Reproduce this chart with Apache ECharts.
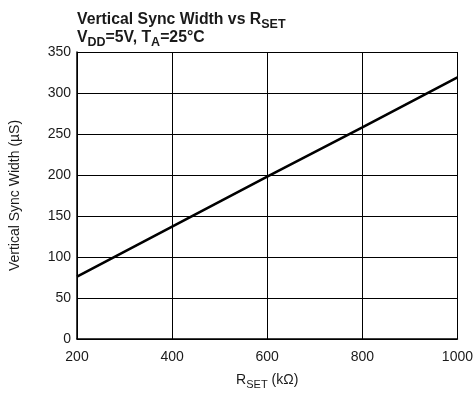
<!DOCTYPE html>
<html>
<head>
<meta charset="utf-8">
<script src="https://cdn.jsdelivr.net/npm/echarts@6/dist/echarts.min.js"></script>
<style>html,body{margin:0;padding:0;background:#fff}#c{width:476px;height:400px}</style>
</head>
<body>
<div id="c"></div>
<script>
const rSet = [200, 400, 600, 800, 1000];
const syncWidth = [76, 137, 198, 258, 319];
const xTicks = [200, 400, 600, 800, 1000];
const yTicks = [0, 50, 100, 150, 200, 250, 300, 350];

const FONT = "'Liberation Sans', Arial, sans-serif";
const TXT = '#1a1a1a';
const chart = echarts.init(document.getElementById('c'), null, {renderer: 'canvas'});
chart.setOption({
  animation: false,
  backgroundColor: '#fff',
  title: {
    left: 72, top: 5,
    text: '{b|Vertical Sync Width vs R}{s|SET}\n{b|V}{s|DD}{b|=5V, T}{s|A}{b|=25°C}',
    textStyle: {
      rich: {
        b: {fontFamily: FONT, fontWeight: 'bold', fontSize: 15.8, color: TXT, lineHeight: 18, verticalAlign: 'bottom'},
        s: {fontFamily: FONT, fontWeight: 'bold', fontSize: 12.5, color: TXT, lineHeight: 18, verticalAlign: 'bottom', padding: [0, 0, -3, 0]}
      }
    }
  },
  grid: {left: 76, right: 16, top: 52, bottom: 61},
  xAxis: {
    type: 'value', min: 200, max: 1000, interval: 200,
    axisLine: {show: true, lineStyle: {color: '#000', width: 1.5}},
    axisTick: {show: false},
    splitLine: {show: true, lineStyle: {color: '#000', width: 1}},
    axisLabel: {fontFamily: FONT, fontSize: 14, color: TXT, margin: 11,
      customValues: xTicks, formatter: v => String(v)},
    name: '{n|R}{s|SET}{n| (kΩ)}',
    nameLocation: 'middle', nameGap: 30,
    nameTextStyle: {
      rich: {
        n: {fontFamily: FONT, fontSize: 14, color: TXT, lineHeight: 18, verticalAlign: 'bottom'},
        s: {fontFamily: FONT, fontSize: 11, color: TXT, lineHeight: 18, verticalAlign: 'bottom', padding: [0, 0, -3, 0]}
      }
    }
  },
  yAxis: {
    type: 'value', min: 0, max: 350, interval: 50,
    axisLine: {show: true, lineStyle: {color: '#000', width: 1.5}},
    axisTick: {show: false},
    splitLine: {show: true, lineStyle: {color: '#000', width: 1}},
    axisLabel: {fontFamily: FONT, fontSize: 14, color: TXT, margin: 6,
      customValues: yTicks, formatter: v => String(v)},
    name: 'Vertical Sync Width (µS)',
    nameLocation: 'middle', nameGap: 55, nameRotate: 90,
    nameTextStyle: {fontFamily: FONT, fontSize: 14, color: TXT}
  },
  series: [{
    type: 'line',
    data: rSet.map((x, i) => [x, syncWidth[i]]),
    symbol: 'none',
    lineStyle: {color: '#000', width: 2.6},
    z: 5
  }]
});
</script>
</body>
</html>
